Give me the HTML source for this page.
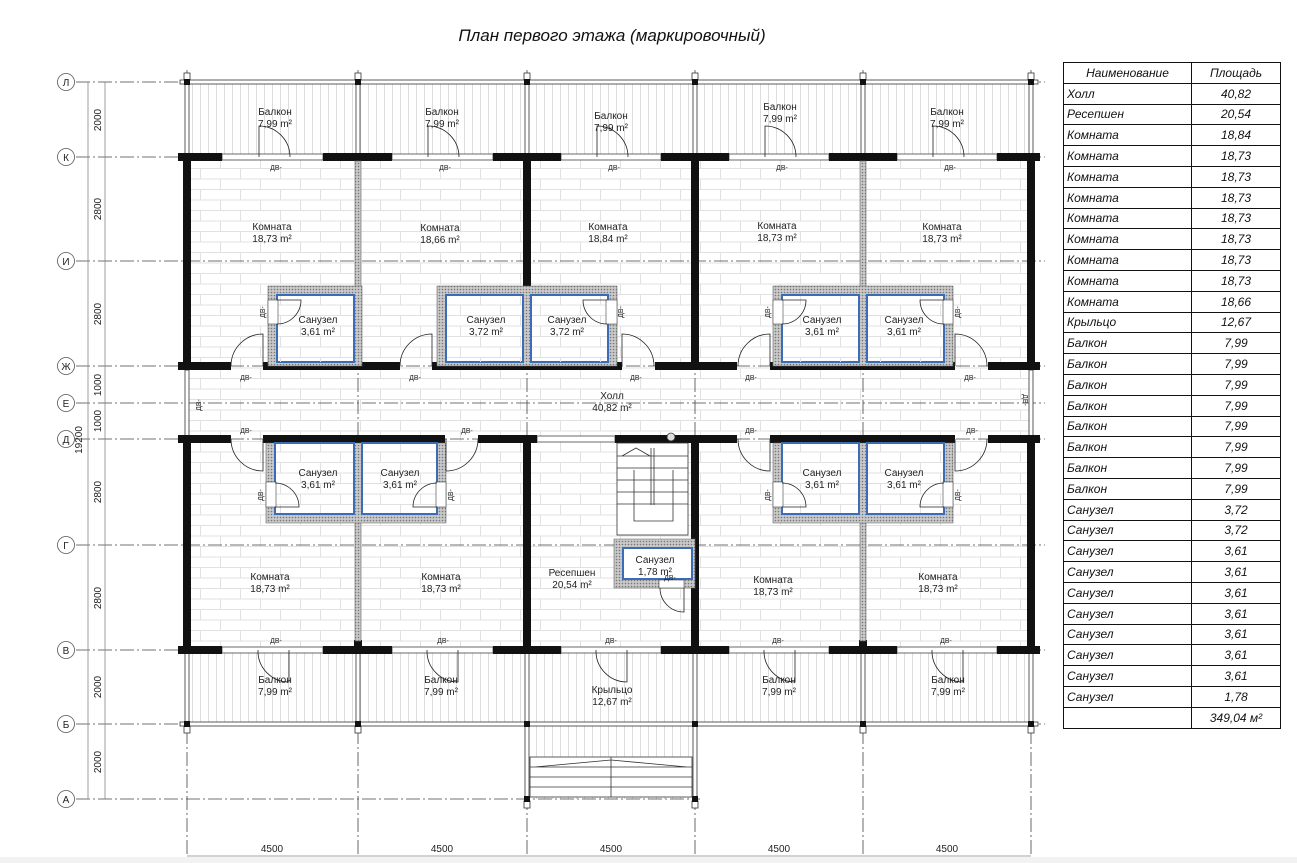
<!DOCTYPE html>
<html><head><meta charset="utf-8"><style>
html,body{margin:0;padding:0;background:#fff;}
body{width:1297px;height:863px;position:relative;overflow:hidden;font-family:"Liberation Sans",sans-serif;}
svg{position:absolute;left:0;top:0;}
.t{font-family:"Liberation Sans",sans-serif;font-size:10px;fill:#222;text-anchor:middle;}
.s{font-family:"Liberation Sans",sans-serif;font-size:7px;fill:#222;text-anchor:middle;}
table{position:absolute;left:1063px;top:62px;border-collapse:collapse;font-style:italic;font-size:12px;color:#111;}
td{border:1.3px solid #111;height:19.8px;padding:0 3px;line-height:18px;}
td.a{width:121px;}
td.b{width:82px;text-align:center;}
</style></head><body>
<svg width="1297" height="863" viewBox="0 0 1297 863">
<defs>
<pattern id="br" patternUnits="userSpaceOnUse" width="40" height="21">
<path d="M0 0.5H40M0 11H40M0.5 0V11M20.5 11V21" stroke="#e1e1e1" stroke-width="1" fill="none"/>
</pattern>
<pattern id="bl" patternUnits="userSpaceOnUse" width="8" height="10">
<path d="M0.5 0V10" stroke="#dcdcdc" stroke-width="1"/>
</pattern>
<pattern id="ht" patternUnits="userSpaceOnUse" width="3" height="3">
<rect width="3" height="3" fill="#c9c9c9"/><circle cx="1.5" cy="1.5" r="0.8" fill="#777"/>
</pattern>
</defs>
<text x="612" y="41" style="font-family:'Liberation Sans',sans-serif;font-size:17px;font-style:italic;fill:#111;text-anchor:middle">План первого этажа (маркировочный)</text>

<rect x="187" y="82" width="844" height="75" fill="url(#bl)"/>
<rect x="187" y="650" width="844" height="74" fill="url(#bl)"/>
<rect x="187" y="157" width="844" height="493" fill="url(#br)"/>
<rect x="527" y="724" width="168" height="75" fill="url(#bl)"/>

<g stroke="#444" stroke-width="0.8" stroke-dasharray="14 3 2 3" fill="none">
<path d="M76 82H1045M76 157H1045M76 261H1045M76 366H1045M76 403H1045M76 439H1045M76 545H1045M76 650H1045M76 724H1045M76 799H700"/>
<path d="M187 70V863M358 70V863M527 70V863M695 70V863M863 70V863M1031 70V863"/>
</g>
<g stroke="#888" stroke-width="0.8">
<path d="M88 82V799M105 82V799M187 856H1031"/>
</g>
<g fill="#fff" stroke="#555" stroke-width="0.8">
<circle cx="66" cy="82" r="8.5"/><circle cx="66" cy="157" r="8.5"/><circle cx="66" cy="261" r="8.5"/><circle cx="66" cy="366" r="8.5"/><circle cx="66" cy="403" r="8.5"/><circle cx="66" cy="439" r="8.5"/><circle cx="66" cy="545" r="8.5"/><circle cx="66" cy="650" r="8.5"/><circle cx="66" cy="724" r="8.5"/><circle cx="66" cy="799" r="8.5"/>
</g>
<g class="t" style="font-size:9px">
<text x="66" y="86" class="t">Л</text><text x="66" y="161" class="t">К</text><text x="66" y="265" class="t">И</text><text x="66" y="370" class="t">Ж</text><text x="66" y="407" class="t">Е</text><text x="66" y="443" class="t">Д</text><text x="66" y="549" class="t">Г</text><text x="66" y="654" class="t">В</text><text x="66" y="728" class="t">Б</text><text x="66" y="803" class="t">А</text>
</g>
<g class="t">
<text transform="translate(101,120) rotate(-90)" class="t">2000</text>
<text transform="translate(101,209) rotate(-90)" class="t">2800</text>
<text transform="translate(101,314) rotate(-90)" class="t">2800</text>
<text transform="translate(101,385) rotate(-90)" class="t">1000</text>
<text transform="translate(101,421) rotate(-90)" class="t">1000</text>
<text transform="translate(101,492) rotate(-90)" class="t">2800</text>
<text transform="translate(101,598) rotate(-90)" class="t">2800</text>
<text transform="translate(101,687) rotate(-90)" class="t">2000</text>
<text transform="translate(101,762) rotate(-90)" class="t">2000</text>
<text transform="translate(82,440) rotate(-90)" class="t">19200</text>
<text x="272" y="852" class="t">4500</text><text x="442" y="852" class="t">4500</text><text x="611" y="852" class="t">4500</text><text x="779" y="852" class="t">4500</text><text x="947" y="852" class="t">4500</text>
</g>
<rect x="0" y="857" width="1297" height="6" fill="#f2f2f2"/>

<g stroke="#333" stroke-width="0.8" fill="#fff">
<rect x="180" y="80" width="858" height="4"/>
<rect x="180" y="722" width="858" height="4"/>
<rect x="185" y="84" width="4" height="73"/><rect x="356" y="84" width="4" height="73"/><rect x="525" y="84" width="4" height="73"/><rect x="693" y="84" width="4" height="73"/><rect x="861" y="84" width="4" height="73"/><rect x="1029" y="84" width="4" height="73"/>
<rect x="185" y="650" width="4" height="72"/><rect x="356" y="650" width="4" height="72"/><rect x="525" y="650" width="4" height="150"/><rect x="693" y="650" width="4" height="150"/><rect x="861" y="650" width="4" height="72"/><rect x="1029" y="650" width="4" height="72"/>
<rect x="185" y="370" width="4" height="66"/><rect x="1029" y="370" width="4" height="66"/>
<rect x="184" y="73" width="6" height="7"/><rect x="355" y="73" width="6" height="7"/><rect x="524" y="73" width="6" height="7"/><rect x="692" y="73" width="6" height="7"/><rect x="860" y="73" width="6" height="7"/><rect x="1028" y="73" width="6" height="7"/>
<rect x="184" y="726" width="6" height="7"/><rect x="355" y="726" width="6" height="7"/><rect x="860" y="726" width="6" height="7"/><rect x="1028" y="726" width="6" height="7"/>
<rect x="524" y="801" width="6" height="7"/><rect x="692" y="801" width="6" height="7"/>
</g>
<g fill="#111">
<rect x="184" y="79" width="6" height="6"/><rect x="355" y="79" width="6" height="6"/><rect x="524" y="79" width="6" height="6"/><rect x="692" y="79" width="6" height="6"/><rect x="860" y="79" width="6" height="6"/><rect x="1028" y="79" width="6" height="6"/>
<rect x="184" y="721" width="6" height="6"/><rect x="355" y="721" width="6" height="6"/><rect x="524" y="721" width="6" height="6"/><rect x="692" y="721" width="6" height="6"/><rect x="860" y="721" width="6" height="6"/><rect x="1028" y="721" width="6" height="6"/>
<rect x="524" y="796" width="6" height="6"/><rect x="692" y="796" width="6" height="6"/>
</g>
<g stroke="#333" stroke-width="0.8" fill="none">
<rect x="530" y="757" width="162" height="40" fill="#fff"/>
<path d="M530 767H692M530 777H692M530 787H692M611 757V797M535 767L611 760L687 767"/>
</g>

<g fill="#fff" stroke="#444" stroke-width="0.8">
<rect x="222" y="154" width="101" height="6"/><rect x="392" y="154" width="101" height="6"/><rect x="561" y="154" width="100" height="6"/><rect x="729" y="154" width="100" height="6"/><rect x="897" y="154" width="100" height="6"/>
<rect x="222" y="647" width="101" height="6"/><rect x="392" y="647" width="101" height="6"/><rect x="561" y="647" width="100" height="6"/><rect x="729" y="647" width="100" height="6"/><rect x="897" y="647" width="100" height="6"/>
<rect x="537" y="436" width="78" height="6"/>
</g>
<g fill="#111">
<rect x="178" y="153" width="44" height="8"/><rect x="323" y="153" width="69" height="8"/><rect x="493" y="153" width="68" height="8"/><rect x="661" y="153" width="68" height="8"/><rect x="829" y="153" width="68" height="8"/><rect x="997" y="153" width="43" height="8"/>
<rect x="178" y="646" width="44" height="8"/><rect x="323" y="646" width="69" height="8"/><rect x="493" y="646" width="68" height="8"/><rect x="661" y="646" width="68" height="8"/><rect x="829" y="646" width="68" height="8"/><rect x="997" y="646" width="43" height="8"/>
<rect x="178" y="362" width="53" height="8"/><rect x="263" y="362" width="137" height="8"/><rect x="432" y="362" width="190" height="8"/><rect x="655" y="362" width="82" height="8"/><rect x="770" y="362" width="185" height="8"/><rect x="988" y="362" width="52" height="8"/>
<rect x="178" y="435" width="53" height="8"/><rect x="263" y="435" width="182" height="8"/><rect x="478" y="435" width="59" height="8"/><rect x="615" y="435" width="122" height="8"/><rect x="770" y="435" width="185" height="8"/><rect x="988" y="435" width="52" height="8"/>
<rect x="183" y="157" width="8" height="209"/><rect x="523" y="157" width="8" height="209"/><rect x="691" y="157" width="8" height="209"/><rect x="1027" y="157" width="8" height="209"/>
<rect x="183" y="439" width="8" height="211"/><rect x="523" y="439" width="8" height="211"/><rect x="691" y="439" width="8" height="211"/><rect x="1027" y="439" width="8" height="211"/>
<rect x="354" y="153" width="8" height="8"/><rect x="859" y="153" width="8" height="8"/><rect x="354" y="355" width="8" height="15"/><rect x="859" y="355" width="8" height="15"/>
<rect x="354" y="435" width="8" height="8"/><rect x="859" y="435" width="8" height="8"/><rect x="354" y="640" width="8" height="14"/><rect x="859" y="640" width="8" height="14"/>
</g>
<g fill="url(#ht)" stroke="#666" stroke-width="0.6">
<rect x="355" y="161" width="6" height="127"/><rect x="860" y="161" width="6" height="127"/>
<rect x="355" y="521" width="6" height="120"/><rect x="860" y="521" width="6" height="120"/>
<path d="M268 286H362V366H268Z"/>
<path d="M437 286H617V366H437Z"/>
<path d="M773 286H953V366H773Z"/>
<path d="M266 443H446V523H266Z"/>
<path d="M773 443H953V523H773Z"/>
<path d="M614 539H695V588H614Z"/>
</g>
<g fill="#fff" stroke="#3a6db5" stroke-width="2">
<rect x="277" y="295" width="77" height="67"/>
<rect x="446" y="295" width="77" height="67"/><rect x="531" y="295" width="77" height="67"/>
<rect x="782" y="295" width="77" height="67"/><rect x="867" y="295" width="77" height="67"/>
<rect x="275" y="443" width="79" height="71"/><rect x="362" y="443" width="75" height="71"/>
<rect x="782" y="443" width="77" height="71"/><rect x="867" y="443" width="77" height="71"/>
<rect x="623" y="548" width="69" height="31"/>
</g>
<g fill="url(#br)">
<rect x="278" y="296" width="75" height="66"/><rect x="447" y="296" width="75" height="66"/><rect x="532" y="296" width="75" height="66"/><rect x="783" y="296" width="75" height="66"/><rect x="868" y="296" width="75" height="66"/>
<rect x="276" y="444" width="77" height="69"/><rect x="363" y="444" width="73" height="69"/><rect x="783" y="444" width="75" height="69"/><rect x="868" y="444" width="75" height="69"/>
</g>
<g fill="#fff" stroke="#444" stroke-width="0.6">
<rect x="268" y="300" width="10" height="24"/><rect x="606" y="300" width="11" height="24"/><rect x="773" y="300" width="10" height="24"/><rect x="943" y="300" width="10" height="24"/>
<rect x="266" y="482" width="10" height="25"/><rect x="436" y="482" width="10" height="25"/><rect x="773" y="482" width="10" height="25"/><rect x="943" y="482" width="10" height="25"/>
<rect x="659" y="580" width="25" height="8"/>
</g>
<g stroke="#333" stroke-width="0.8" fill="none">
<rect x="617" y="443" width="71" height="92" fill="#fff"/>
<path d="M617 456H688M617 468H688M617 480H688M617 492H688M617 504H688M634 470V521H673V470M651 448V505M654 448V505M622 456L636 448L650 456"/>
<circle cx="671" cy="437" r="4" fill="#ddd"/>
</g>
<g stroke="#222" stroke-width="0.8" fill="none">
<path d="M259 157V126A31 31 0 0 1 290 157"/><path d="M428 157V126A31 31 0 0 1 459 157"/><path d="M597 157V126A31 31 0 0 1 628 157"/><path d="M765 157V126A31 31 0 0 1 796 157"/><path d="M933 157V126A31 31 0 0 1 964 157"/>
<path d="M289 650V682A31 31 0 0 1 258 650"/><path d="M458 650V682A31 31 0 0 1 427 650"/><path d="M627 650V682A31 31 0 0 1 596 650"/><path d="M795 650V682A31 31 0 0 1 764 650"/><path d="M963 650V682A31 31 0 0 1 932 650"/>
<path d="M263 366V334A32 32 0 0 0 231 366"/><path d="M432 366V334A32 32 0 0 0 400 366"/><path d="M622 366V334A32 32 0 0 1 654 366"/><path d="M770 366V334A32 32 0 0 0 738 366"/><path d="M955 366V334A32 32 0 0 1 987 366"/>
<path d="M263 439V471A32 32 0 0 1 231 439"/><path d="M446 439V471A32 32 0 0 0 478 439"/><path d="M770 439V471A32 32 0 0 1 738 439"/><path d="M955 439V471A32 32 0 0 0 987 439"/>
<path d="M277 300H301A24 24 0 0 1 277 324"/><path d="M607 300H583A24 24 0 0 0 607 324"/><path d="M782 300H806A24 24 0 0 1 782 324"/><path d="M944 300H920A24 24 0 0 0 944 324"/>
<path d="M275 507H299A24 24 0 0 0 275 483"/><path d="M437 507H413A24 24 0 0 1 437 483"/><path d="M782 507H806A24 24 0 0 0 782 483"/><path d="M944 507H920A24 24 0 0 1 944 483"/>
<path d="M684 588V612A24 24 0 0 1 660 588"/>
</g>
<g class="s">
<text x="276" y="170" class="s">ДВ-</text><text x="445" y="170" class="s">ДВ-</text><text x="614" y="170" class="s">ДВ-</text><text x="782" y="170" class="s">ДВ-</text><text x="950" y="170" class="s">ДВ-</text>
<text x="276" y="643" class="s">ДВ-</text><text x="443" y="643" class="s">ДВ-</text><text x="611" y="643" class="s">ДВ-</text><text x="778" y="643" class="s">ДВ-</text><text x="946" y="643" class="s">ДВ-</text>
<text x="246" y="380" class="s">ДВ-</text><text x="415" y="380" class="s">ДВ-</text><text x="636" y="380" class="s">ДВ-</text><text x="751" y="380" class="s">ДВ-</text><text x="970" y="380" class="s">ДВ-</text>
<text x="246" y="433" class="s">ДВ-</text><text x="467" y="433" class="s">ДВ-</text><text x="751" y="433" class="s">ДВ-</text><text x="972" y="433" class="s">ДВ-</text>
<text x="670" y="580" class="s">ДВ-</text>
<text transform="translate(265,312) rotate(-90)" class="s">ДВ-</text><text transform="translate(623,312) rotate(-90)" class="s">ДВ-</text><text transform="translate(770,312) rotate(-90)" class="s">ДВ-</text><text transform="translate(960,312) rotate(-90)" class="s">ДВ-</text>
<text transform="translate(263,495) rotate(-90)" class="s">ДВ-</text><text transform="translate(453,495) rotate(-90)" class="s">ДВ-</text><text transform="translate(770,495) rotate(-90)" class="s">ДВ-</text><text transform="translate(960,495) rotate(-90)" class="s">ДВ-</text>
<text transform="translate(201,405) rotate(-90)" class="s">ДВ-</text><text transform="translate(1023,400) rotate(90)" class="s">ДВ-</text>
</g>
<g class="t">
<text x="275" y="115" class="t">Балкон</text><text x="275" y="127" class="t">7,99 m²</text>
<text x="442" y="115" class="t">Балкон</text><text x="442" y="127" class="t">7,99 m²</text>
<text x="611" y="119" class="t">Балкон</text><text x="611" y="131" class="t">7,99 m²</text>
<text x="780" y="110" class="t">Балкон</text><text x="780" y="122" class="t">7,99 m²</text>
<text x="947" y="115" class="t">Балкон</text><text x="947" y="127" class="t">7,99 m²</text>
<text x="272" y="230" class="t">Комната</text><text x="272" y="242" class="t">18,73 m²</text>
<text x="440" y="231" class="t">Комната</text><text x="440" y="243" class="t">18,66 m²</text>
<text x="608" y="230" class="t">Комната</text><text x="608" y="242" class="t">18,84 m²</text>
<text x="777" y="229" class="t">Комната</text><text x="777" y="241" class="t">18,73 m²</text>
<text x="942" y="230" class="t">Комната</text><text x="942" y="242" class="t">18,73 m²</text>
<text x="318" y="323" class="t">Санузел</text><text x="318" y="335" class="t">3,61 m²</text>
<text x="486" y="323" class="t">Санузел</text><text x="486" y="335" class="t">3,72 m²</text>
<text x="567" y="323" class="t">Санузел</text><text x="567" y="335" class="t">3,72 m²</text>
<text x="822" y="323" class="t">Санузел</text><text x="822" y="335" class="t">3,61 m²</text>
<text x="904" y="323" class="t">Санузел</text><text x="904" y="335" class="t">3,61 m²</text>
<text x="612" y="399" class="t">Холл</text><text x="612" y="411" class="t">40,82 m²</text>
<text x="318" y="476" class="t">Санузел</text><text x="318" y="488" class="t">3,61 m²</text>
<text x="400" y="476" class="t">Санузел</text><text x="400" y="488" class="t">3,61 m²</text>
<text x="822" y="476" class="t">Санузел</text><text x="822" y="488" class="t">3,61 m²</text>
<text x="904" y="476" class="t">Санузел</text><text x="904" y="488" class="t">3,61 m²</text>
<text x="572" y="576" class="t">Ресепшен</text><text x="572" y="588" class="t">20,54 m²</text>
<text x="655" y="563" class="t">Санузел</text><text x="655" y="575" class="t">1,78 m²</text>
<text x="270" y="580" class="t">Комната</text><text x="270" y="592" class="t">18,73 m²</text>
<text x="441" y="580" class="t">Комната</text><text x="441" y="592" class="t">18,73 m²</text>
<text x="773" y="583" class="t">Комната</text><text x="773" y="595" class="t">18,73 m²</text>
<text x="938" y="580" class="t">Комната</text><text x="938" y="592" class="t">18,73 m²</text>
<text x="275" y="683" class="t">Балкон</text><text x="275" y="695" class="t">7,99 m²</text>
<text x="441" y="683" class="t">Балкон</text><text x="441" y="695" class="t">7,99 m²</text>
<text x="612" y="693" class="t">Крыльцо</text><text x="612" y="705" class="t">12,67 m²</text>
<text x="779" y="683" class="t">Балкон</text><text x="779" y="695" class="t">7,99 m²</text>
<text x="948" y="683" class="t">Балкон</text><text x="948" y="695" class="t">7,99 m²</text>
</g>
</svg>
<table>
<tr><td class="a" style="text-align:center">Наименование</td><td class="b">Площадь</td></tr>
<tr><td class="a">Холл</td><td class="b">40,82</td></tr>
<tr><td class="a">Ресепшен</td><td class="b">20,54</td></tr>
<tr><td class="a">Комната</td><td class="b">18,84</td></tr>
<tr><td class="a">Комната</td><td class="b">18,73</td></tr>
<tr><td class="a">Комната</td><td class="b">18,73</td></tr>
<tr><td class="a">Комната</td><td class="b">18,73</td></tr>
<tr><td class="a">Комната</td><td class="b">18,73</td></tr>
<tr><td class="a">Комната</td><td class="b">18,73</td></tr>
<tr><td class="a">Комната</td><td class="b">18,73</td></tr>
<tr><td class="a">Комната</td><td class="b">18,73</td></tr>
<tr><td class="a">Комната</td><td class="b">18,66</td></tr>
<tr><td class="a">Крыльцо</td><td class="b">12,67</td></tr>
<tr><td class="a">Балкон</td><td class="b">7,99</td></tr>
<tr><td class="a">Балкон</td><td class="b">7,99</td></tr>
<tr><td class="a">Балкон</td><td class="b">7,99</td></tr>
<tr><td class="a">Балкон</td><td class="b">7,99</td></tr>
<tr><td class="a">Балкон</td><td class="b">7,99</td></tr>
<tr><td class="a">Балкон</td><td class="b">7,99</td></tr>
<tr><td class="a">Балкон</td><td class="b">7,99</td></tr>
<tr><td class="a">Балкон</td><td class="b">7,99</td></tr>
<tr><td class="a">Санузел</td><td class="b">3,72</td></tr>
<tr><td class="a">Санузел</td><td class="b">3,72</td></tr>
<tr><td class="a">Санузел</td><td class="b">3,61</td></tr>
<tr><td class="a">Санузел</td><td class="b">3,61</td></tr>
<tr><td class="a">Санузел</td><td class="b">3,61</td></tr>
<tr><td class="a">Санузел</td><td class="b">3,61</td></tr>
<tr><td class="a">Санузел</td><td class="b">3,61</td></tr>
<tr><td class="a">Санузел</td><td class="b">3,61</td></tr>
<tr><td class="a">Санузел</td><td class="b">3,61</td></tr>
<tr><td class="a">Санузел</td><td class="b">1,78</td></tr>
<tr><td class="a"></td><td class="b">349,04 м²</td></tr>
</table>
</body></html>
